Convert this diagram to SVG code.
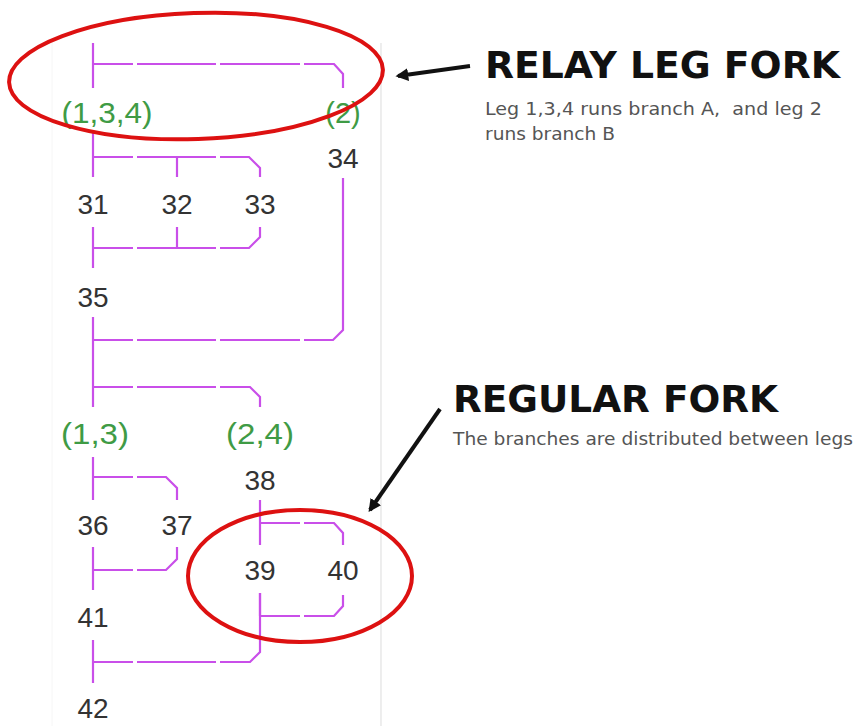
<svg xmlns="http://www.w3.org/2000/svg" width="861" height="726" viewBox="0 0 861 726">
<style>
.w{fill:none;stroke:#c94fe9;stroke-width:2.2}
.n{font-family:"Liberation Sans",Arial,sans-serif;font-size:28px;fill:#333;text-anchor:middle}
.g{font-family:"Liberation Sans",Arial,sans-serif;font-size:29px;fill:#3f9b45;text-anchor:middle}
.h{font-family:"DejaVu Sans",Verdana,sans-serif;font-weight:bold;font-size:37px;fill:#111}
.s{font-family:"DejaVu Sans",Verdana,sans-serif;font-size:17px;fill:#555}
.r{fill:none;stroke:#dd1111;stroke-width:4}
.a{stroke:#111;stroke-width:4;fill:none}
</style>
<defs>
<marker id="ah" viewBox="0 0 10 10" refX="8" refY="5" markerWidth="3.2" markerHeight="3.2" orient="auto">
<path d="M0,0 L10,5 L0,10 z" fill="#111"/>
</marker>
</defs>
<rect width="861" height="726" fill="#fff"/>
<line x1="381" y1="43" x2="381" y2="726" stroke="#e2e2e2" stroke-width="1.2"/>
<line x1="52" y1="40" x2="52" y2="726" stroke="#f6f6f6" stroke-width="1"/>
<g id="connectors">
<path class="w" d="M93,43 V88 M93,64 H133 M137,64 H216 M220,64 H300 M304,64 H334 L343,74 V88"/>
<path class="w" d="M93,133 V177 M93,157 H133 M137,157 H216 M220,157 H249 L260,168 V177 M177,157 V177"/>
<path class="w" d="M93,227 V268 M93,248 H133 M137,248 H216 M220,248 H249 L260,237 V227 M177,227 V248"/>
<path class="w" d="M343,178 V330 L333,340 H304 M300,340 H220 M216,340 H137 M133,340 H93"/>
<path class="w" d="M93,317 V407 M93,387 H133 M137,387 H216 M220,387 H250 L260,397 V407"/>
<path class="w" d="M93,457 V500 M93,477 H133 M137,477 H166 L177,488 V500"/>
<path class="w" d="M93,547 V590 M93,570 H133 M137,570 H166 L177,559 V547"/>
<path class="w" d="M93,640 V683 M93,662 H133 M137,662 H216 M220,662 H250 L260,652 V593"/>
<path class="w" d="M260,500 V545 M260,523 H300 M304,523 H334 L343,533 V545"/>
<path class="w" d="M260,593 V616 M260,616 H300 M304,616 H334 L343,606 V595"/>
</g>
<g id="fork1"><text class="g" x="107" y="123" textLength="91" lengthAdjust="spacingAndGlyphs">(1,3,4)</text><text class="g" x="343" y="123">(2)</text></g>
<g id="n34"><text class="n" x="343" y="168">34</text></g>
<g id="n31"><text class="n" x="93" y="214">31</text></g>
<g id="n32"><text class="n" x="177" y="214">32</text></g>
<g id="n33"><text class="n" x="260" y="214">33</text></g>
<g id="n35"><text class="n" x="93" y="307">35</text></g>
<g id="fork2"><text class="g" x="95" y="444" textLength="68" lengthAdjust="spacingAndGlyphs">(1,3)</text><text class="g" x="260" y="444" textLength="68" lengthAdjust="spacingAndGlyphs">(2,4)</text></g>
<g id="n38"><text class="n" x="260" y="490">38</text></g>
<g id="n36"><text class="n" x="93" y="535">36</text></g>
<g id="n37"><text class="n" x="177" y="535">37</text></g>
<g id="n39"><text class="n" x="260" y="580">39</text></g>
<g id="n40"><text class="n" x="343" y="580">40</text></g>
<g id="n41"><text class="n" x="93" y="627">41</text></g>
<g id="n42"><text class="n" x="93" y="718">42</text></g>
<g id="annotations">
<ellipse class="r" cx="196" cy="76" rx="187" ry="63" transform="rotate(-2 196 76)"/>
<ellipse class="r" cx="300" cy="576" rx="112" ry="66"/>
<line class="a" x1="470" y1="66" x2="398" y2="76" marker-end="url(#ah)"/>
<line class="a" x1="440" y1="409" x2="370" y2="510" marker-end="url(#ah)"/>
<text class="h" x="485" y="78" textLength="355" lengthAdjust="spacingAndGlyphs">RELAY LEG FORK</text>
<text class="s" x="485" y="115" textLength="337" lengthAdjust="spacingAndGlyphs" xml:space="preserve">Leg 1,3,4 runs branch A,  and leg 2</text>
<text class="s" x="485" y="140" textLength="130" lengthAdjust="spacingAndGlyphs">runs branch B</text>
<text class="h" x="453" y="412" textLength="325" lengthAdjust="spacingAndGlyphs">REGULAR FORK</text>
<text class="s" x="453" y="445" textLength="400" lengthAdjust="spacingAndGlyphs">The branches are distributed between legs</text>
</g>
</svg>
